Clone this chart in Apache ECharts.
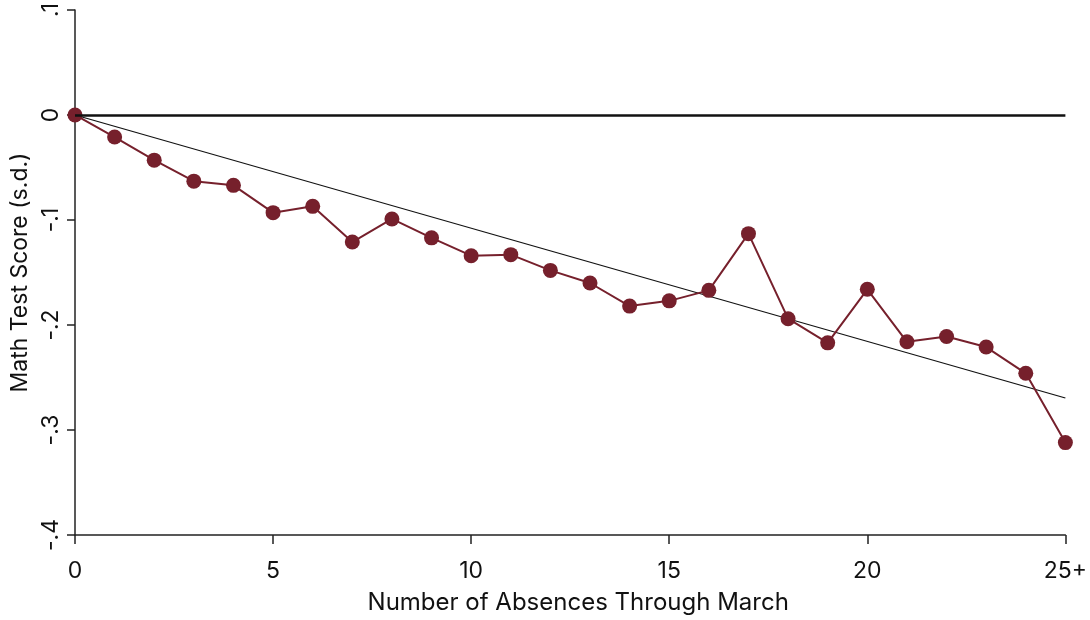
<!DOCTYPE html>
<html><head><meta charset="utf-8">
<script src="https://cdn.jsdelivr.net/npm/echarts@6/dist/echarts.min.js"></script>
<style>html,body{margin:0;padding:0;background:#fff}#c{width:1090px;height:620px}</style>
</head><body><div id="c"></div>
<script>
const absences = [0,1,2,3,4,5,6,7,8,9,10,11,12,13,14,15,16,17,18,19,20,21,22,23,24,25];
const mathScore = [0,-0.021,-0.043,-0.063,-0.067,-0.093,-0.087,-0.121,-0.099,-0.117,-0.134,-0.133,-0.148,-0.160,-0.182,-0.177,-0.167,-0.113,-0.194,-0.217,-0.166,-0.216,-0.211,-0.221,-0.246,-0.312];
const fitX = [0,25];
const fitY = [0,-0.2695];
const xTickLabels = {0:'0',5:'5',10:'10',15:'15',20:'20',25:'25+'};
const font = 'Inter, Liberation Sans, Arial, sans-serif';
const chart = echarts.init(document.getElementById('c'));
chart.setOption({
  animation:false,
  grid:{left:75,right:23,top:8,bottom:84,containLabel:false},
  xAxis:{type:'value',min:0,max:25,interval:5,
    axisLine:{show:true,onZero:false,lineStyle:{color:'#222',width:1.5}},
    axisTick:{show:true,length:9,lineStyle:{color:'#222',width:1.5}},
    splitLine:{show:false},
    axisLabel:{margin:25,fontSize:23,color:'#111',fontFamily:font,formatter:v=>xTickLabels[v]},
    name:'Number of Absences Through March',nameLocation:'middle',nameGap:56,
    nameTextStyle:{fontSize:24,color:'#111',fontFamily:font,padding:[0,0,0,16]}},
  yAxis:{type:'value',min:-0.4,max:0.1,interval:0.1,
    axisLine:{show:true,onZero:false,lineStyle:{color:'#222',width:1.5}},
    axisTick:{show:true,length:8,lineStyle:{color:'#222',width:1.5}},
    splitLine:{show:false},
    axisLabel:{rotate:90,margin:12,fontSize:23,color:'#111',fontFamily:font,
      formatter:v=>{const r=Math.round(v*10)/10; if(r===0) return '0'; return (r<0?'-':'')+String(Math.abs(r)).replace(/^0/,'');}},
    name:'Math Test Score (s.d.)',nameLocation:'middle',nameGap:43,nameRotate:90,
    nameTextStyle:{fontSize:23,color:'#111',fontFamily:font}},
  series:[
    {type:'line',data:fitX.map((x,i)=>[x,fitY[i]]),symbol:'none',
      lineStyle:{color:'#111',width:1.2},z:2,
      markLine:{silent:true,symbol:'none',label:{show:false},
        lineStyle:{color:'#111',width:2.5,type:'solid'},data:[{yAxis:0}]}},
    {type:'line',data:absences.map((x,i)=>[x,mathScore[i]]),symbol:'circle',symbolSize:15,
      lineStyle:{color:'#76202c',width:2},itemStyle:{color:'#76202c'},z:3}
  ]
});
</script></body></html>
